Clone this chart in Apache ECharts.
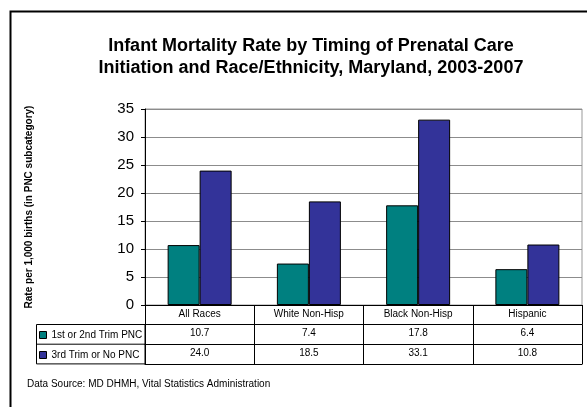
<!DOCTYPE html>
<html><head><meta charset="utf-8">
<script src="https://cdn.jsdelivr.net/npm/echarts@6/dist/echarts.min.js"></script>
<style>html,body{margin:0;padding:0;background:#fff}#c{width:587px;height:407px}</style>
</head><body><div id="c"></div>
<script>
const categories = ['All Races', 'White Non-Hisp', 'Black Non-Hisp', 'Hispanic'];
const seriesNames = ['1st or 2nd Trim PNC', '3rd Trim or No PNC'];
const earlyPNC = [10.7, 7.4, 17.8, 6.4];
const latePNC = [24.0, 18.5, 33.1, 10.8];
const yTicks = [0, 5, 10, 15, 20, 25, 30, 35];

const FONT = 'Liberation Sans, Arial, sans-serif';
const chart = echarts.init(document.getElementById('c'), null, {renderer: 'canvas'});
const gridL = 145, gridR = 5, gridT = 109, gridB = 102;
const rowH = 19.7;
function tableAxis(idx, labels, offset) {
  return {
    type: 'category', data: categories, gridIndex: 0, position: 'bottom', offset: offset,
    axisLine: {show: true, lineStyle: {color: '#000', width: 1}},
    axisTick: {show: true, length: rowH, lineStyle: {color: '#000'}},
    axisLabel: {show: labels !== null, formatter: labels ? (v, i) => labels[i] : undefined,
      interval: 0, color: '#000', fontFamily: FONT, fontSize: 10, margin: 4},
    splitLine: {show: false}
  };
}
const option = {
  animation: false,
  textStyle: {fontFamily: FONT},
  title: {
    text: 'Infant Mortality Rate by Timing of Prenatal Care\nInitiation and Race/Ethnicity, Maryland, 2003-2007',
    left: 306, textAlign: 'center', top: 30,
    textStyle: {fontFamily: FONT, fontSize: 18, fontWeight: 'bold', color: '#000', lineHeight: 22}
  },
  grid: {left: gridL, right: gridR, top: gridT, bottom: gridB, show: true, borderColor: '#999', borderWidth: 1},
  legend: {
    orient: 'vertical', left: 39, top: 329, itemWidth: 7, itemHeight: 7, itemGap: 8,
    icon: 'rect', data: seriesNames,
    textStyle: {fontFamily: FONT, fontSize: 10, color: '#000', lineHeight: 12}, padding: 0,
    itemStyle: {borderColor: '#000', borderWidth: 1}
  },
  xAxis: [
    tableAxis(0, categories, 0),
    tableAxis(1, earlyPNC.map(v => v.toFixed(1)), rowH),
    tableAxis(2, latePNC.map(v => v.toFixed(1)), rowH * 2),
    Object.assign(tableAxis(3, null, rowH * 3), {axisTick: {show: false}})
  ],
  yAxis: {
    type: 'value', min: yTicks[0], max: yTicks[yTicks.length - 1], interval: 5,
    name: 'Rate per 1,000 births (in PNC subcategory)', nameLocation: 'middle', nameGap: 111,
    nameTextStyle: {fontFamily: FONT, fontSize: 10, fontWeight: 'bold', color: '#000'},
    axisLine: {show: true, lineStyle: {color: '#000'}},
    axisTick: {show: true, length: 4, lineStyle: {color: '#000'}},
    axisLabel: {color: '#000', fontFamily: FONT, fontSize: 15, margin: 11},
    splitLine: {show: true, lineStyle: {color: '#8c8c8c', width: 1}}
  },
  series: [
    {name: seriesNames[0], type: 'bar', data: earlyPNC, barWidth: 32, barGap: '0%',
      itemStyle: {color: '#008080', borderColor: '#000', borderWidth: 1}},
    {name: seriesNames[1], type: 'bar', data: latePNC, barWidth: 32, barGap: '0%',
      itemStyle: {color: '#333399', borderColor: '#000', borderWidth: 1}}
  ],
  graphic: [
    {type: 'rect', shape: {x: 10.5, y: 11.5, width: 600, height: 420}, style: {fill: null, stroke: '#000', lineWidth: 2}, silent: true},
    {type: 'rect', shape: {x: 36.5, y: 324.5, width: 108.5, height: 39.4}, style: {fill: null, stroke: '#000', lineWidth: 1}, silent: true},
    {type: 'line', shape: {x1: 36.5, y1: 344.2, x2: 145, y2: 344.2}, style: {stroke: '#000', lineWidth: 1}, silent: true},
    {type: 'text', left: 27, top: 379, style: {text: 'Data Source: MD DHMH, Vital Statistics Administration', font: '10px ' + FONT, fill: '#000'}}
  ]
};
chart.setOption(option);
</script></body></html>
